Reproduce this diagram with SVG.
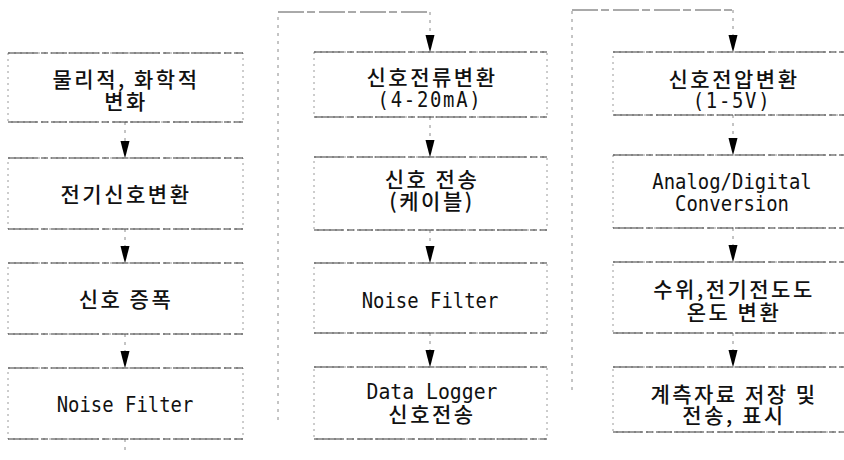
<svg xmlns="http://www.w3.org/2000/svg" xmlns:xlink="http://www.w3.org/1999/xlink" width="844" height="460" viewBox="0 0 844 460">
<style>
.side{fill:none;stroke:#9a9a9a;stroke-width:1;stroke-dasharray:2 4}
.edge{fill:none;stroke:#3a3a3a;stroke-width:1.2;stroke-dasharray:30 3 7 3 16 2}
.conn{fill:none;stroke:#8a8a8a;stroke-width:1;stroke-dasharray:3 5}
.link{fill:none;stroke:#555;stroke-width:1;stroke-dasharray:26 3 8 4}
.ah{fill:#000}
.ko{font-family:"Noto Sans CJK KR","DejaVu Sans Mono",sans-serif;font-size:21px;font-weight:500;letter-spacing:2.5px;fill:#111;text-anchor:middle;dominant-baseline:central}
.en{font-family:"DejaVu Sans Mono","Noto Sans CJK KR",monospace;font-size:22px;fill:#111;text-anchor:middle;dominant-baseline:central}
</style>
<defs>
<path id="ah" class="ah" d="M-4.5,-17 L4.5,-17 L1.2,-4 L0,0 L-1.2,-4 Z"/>
</defs>

<g id="connectors">
<path class="conn" d="M125,122 V150"/>
<path class="conn" d="M125,229 V255"/>
<path class="conn" d="M125,334 V360"/>
<path class="conn" d="M125,439 V455"/>
<path class="conn" d="M278,420 V12"/>
<path class="link" d="M278,12 H430"/>
<path class="conn" d="M430,12 V45"/>
<path class="conn" d="M430,117 V150"/>
<path class="conn" d="M430,230 V255"/>
<path class="conn" d="M430,333 V360"/>
<path class="conn" d="M572,390 V10"/>
<path class="link" d="M572,10 H733"/>
<path class="conn" d="M733,10 V45"/>
<path class="conn" d="M733,115 V148"/>
<path class="conn" d="M733,228 V255"/>
<path class="conn" d="M733,333 V360"/>
<use xlink:href="#ah" x="125" y="158"/>
<use xlink:href="#ah" x="125" y="263"/>
<use xlink:href="#ah" x="125" y="368"/>
<use xlink:href="#ah" x="430" y="52"/>
<use xlink:href="#ah" x="430" y="157"/>
<use xlink:href="#ah" x="430" y="263"/>
<use xlink:href="#ah" x="430" y="367"/>
<use xlink:href="#ah" x="733" y="52"/>
<use xlink:href="#ah" x="733" y="155"/>
<use xlink:href="#ah" x="733" y="262"/>
<use xlink:href="#ah" x="733" y="367"/>
</g>

<g id="c1n1"><rect class="side" x="8" y="53" width="235" height="69"/><path class="edge" d="M8,53 H243 M8,122 H243"/>
<text class="ko" x="126" y="78">물리적, 화학적</text><text class="ko" x="126" y="100">변화</text></g>
<g id="c1n2"><rect class="side" x="8" y="158" width="235" height="71"/><path class="edge" d="M8,158 H243 M8,229 H243"/>
<text class="ko" x="126" y="193">전기신호변환</text></g>
<g id="c1n3"><rect class="side" x="8" y="263" width="235" height="71"/><path class="edge" d="M8,263 H243 M8,334 H243"/>
<text class="ko" x="126" y="298">신호 증폭</text></g>
<g id="c1n4"><rect class="side" x="8" y="368" width="235" height="71"/><path class="edge" d="M8,368 H243 M8,439 H243"/>
<text class="en" transform="translate(125,404) scale(0.86,1)">Noise Filter</text></g>

<g id="c2n1"><rect class="side" x="314" y="52" width="233" height="65"/><path class="edge" d="M314,52 H547 M314,117 H547"/>
<text class="ko" x="432" y="76">신호전류변환</text><text class="en" transform="translate(430,99) scale(0.86,1)" letter-spacing="2">(4-20mA)</text></g>
<g id="c2n2"><rect class="side" x="314" y="157" width="233" height="73"/><path class="edge" d="M314,157 H547 M314,230 H547"/>
<text class="ko" x="432" y="178">신호 전송</text><text class="ko" x="432" y="200">(케이블)</text></g>
<g id="c2n3"><rect class="side" x="314" y="263" width="233" height="70"/><path class="edge" d="M314,263 H547 M314,333 H547"/>
<text class="en" transform="translate(430,300) scale(0.86,1)">Noise Filter</text></g>
<g id="c2n4"><rect class="side" x="314" y="367" width="233" height="72"/><path class="edge" d="M314,367 H547 M314,439 H547"/>
<text class="en" transform="translate(432,392) scale(0.9,1)">Data Logger</text><text class="ko" x="432" y="413">신호전송</text></g>

<g id="c3n1"><rect class="side" x="613" y="52" width="240" height="63"/><path class="edge" d="M613,52 H853 M613,115 H853"/>
<text class="ko" x="734" y="78">신호전압변환</text><text class="en" transform="translate(732,100) scale(0.86,1)" letter-spacing="2">(1-5V)</text></g>
<g id="c3n2"><rect class="side" x="613" y="155" width="240" height="73"/><path class="edge" d="M613,155 H853 M613,228 H853"/>
<text class="en" transform="translate(732,181) scale(0.86,1)">Analog/Digital</text><text class="en" transform="translate(732,203) scale(0.86,1)">Conversion</text></g>
<g id="c3n3"><rect class="side" x="613" y="262" width="240" height="71"/><path class="edge" d="M613,262 H853 M613,333 H853"/>
<text class="ko" x="734" y="288">수위,전기전도도</text><text class="ko" x="734" y="311">온도 변환</text></g>
<g id="c3n4"><rect class="side" x="613" y="367" width="240" height="65"/><path class="edge" d="M613,367 H853 M613,432 H853"/>
<text class="ko" x="734" y="393">계측자료 저장 및</text><text class="ko" x="734" y="414">전송, 표시</text></g>
</svg>
